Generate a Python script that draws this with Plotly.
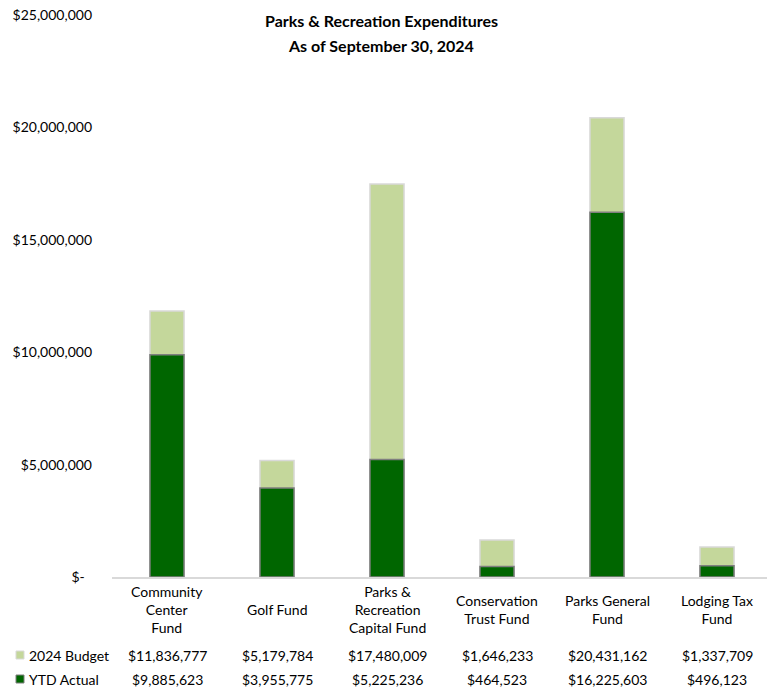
import plotly.graph_objects as go

categories = ["Community Center Fund", "Golf Fund", "Parks & Recreation Capital Fund",
              "Conservation Trust Fund", "Parks General Fund", "Lodging Tax Fund"]
category_labels = ["Community<br>Center<br>Fund", "Golf Fund", "Parks &<br>Recreation<br>Capital Fund",
                   "Conservation<br>Trust Fund", "Parks General<br>Fund", "Lodging Tax<br>Fund"]
budget_2024 = [11836777, 5179784, 17480009, 1646233, 20431162, 1337709]
ytd_actual = [9885623, 3955775, 5225236, 464523, 16225603, 496123]
series_names = ["2024 Budget", "YTD Actual"]
tick_values = [0, 5000000, 10000000, 15000000, 20000000, 25000000]
tick_labels = ["$-\u00a0\u00a0", "$5,000,000", "$10,000,000", "$15,000,000", "$20,000,000", "$25,000,000"]
title_lines = ["Parks & Recreation Expenditures", "As of September 30, 2024"]

FONT = "Lato"
BUDGET_COLOR = "#C4D79B"
ACTUAL_COLOR = "#006600"
colors = [BUDGET_COLOR, ACTUAL_COLOR]

fig = go.Figure()
fig.add_trace(go.Bar(x=categories, y=budget_2024, name=series_names[0], width=0.31,
                     marker=dict(color=BUDGET_COLOR, line=dict(color="#D9D9D9", width=1.5))))
fig.add_trace(go.Bar(x=categories, y=ytd_actual, name=series_names[1], width=0.31,
                     marker=dict(color=ACTUAL_COLOR, line=dict(color="#7F7F7F", width=1.5))))

txt = dict(family=FONT, size=14, color="#000000")
annotations = []
for cat, lab, b, a in zip(categories, category_labels, budget_2024, ytd_actual):
    annotations.append(dict(x=cat, xref="x", y=0, yref="paper", yshift=-32, text=lab,
                            showarrow=False, xanchor="center", yanchor="middle", font=txt))
    annotations.append(dict(x=cat, xref="x", y=0, yref="paper", yshift=-78, text=f"${b:,}",
                            showarrow=False, xanchor="center", yanchor="middle", font=txt))
    annotations.append(dict(x=cat, xref="x", y=0, yref="paper", yshift=-102, text=f"${a:,}",
                            showarrow=False, xanchor="center", yanchor="middle", font=txt))

shapes = []
for name, color, shift in zip(series_names, colors, [-78, -102]):
    annotations.append(dict(x=-0.1288, xref="paper", y=0, yref="paper", yshift=shift,
                            text=name, showarrow=False, xanchor="left", yanchor="middle", font=txt))
    shapes.append(dict(type="rect", xref="paper", yref="paper", xsizemode="pixel", ysizemode="pixel",
                       xanchor=0, yanchor=0, x0=-96, x1=-88, y0=shift - 4, y1=shift + 4,
                       fillcolor=color, line=dict(color="#7F7F7F" if color == ACTUAL_COLOR else "#D9D9D9", width=1)))

for line, shift in zip(title_lines, [-5, -30]):
    annotations.append(dict(x=0.4076, xref="paper", y=1, yref="paper", yshift=shift,
                            text=f"<b>{line}</b>", showarrow=False, xanchor="center", yanchor="middle",
                            font=dict(family=FONT, size=16, color="#000000")))

fig.update_layout(
    width=767, height=679,
    barmode="overlay",
    showlegend=False,
    plot_bgcolor="white", paper_bgcolor="white",
    margin=dict(l=104, r=3, t=7, b=110, autoexpand=False),
    xaxis=dict(type="category", range=[-0.5, 5.5], showticklabels=False, showline=True,
               linecolor="#D9D9D9", linewidth=1.5, ticks="", showgrid=False, zeroline=False,
               fixedrange=True, automargin=False),
    yaxis=dict(range=[0, 25000000], tickvals=tick_values, ticktext=tick_labels,
               showgrid=False, zeroline=False, showline=False, ticks="",
               ticklabelstandoff=19, ticklabeloverflow="allow", automargin=False,
               tickfont=dict(family=FONT, size=14, color="#000000")),
    annotations=annotations,
    shapes=shapes,
)

fig.write_html("out.html")
